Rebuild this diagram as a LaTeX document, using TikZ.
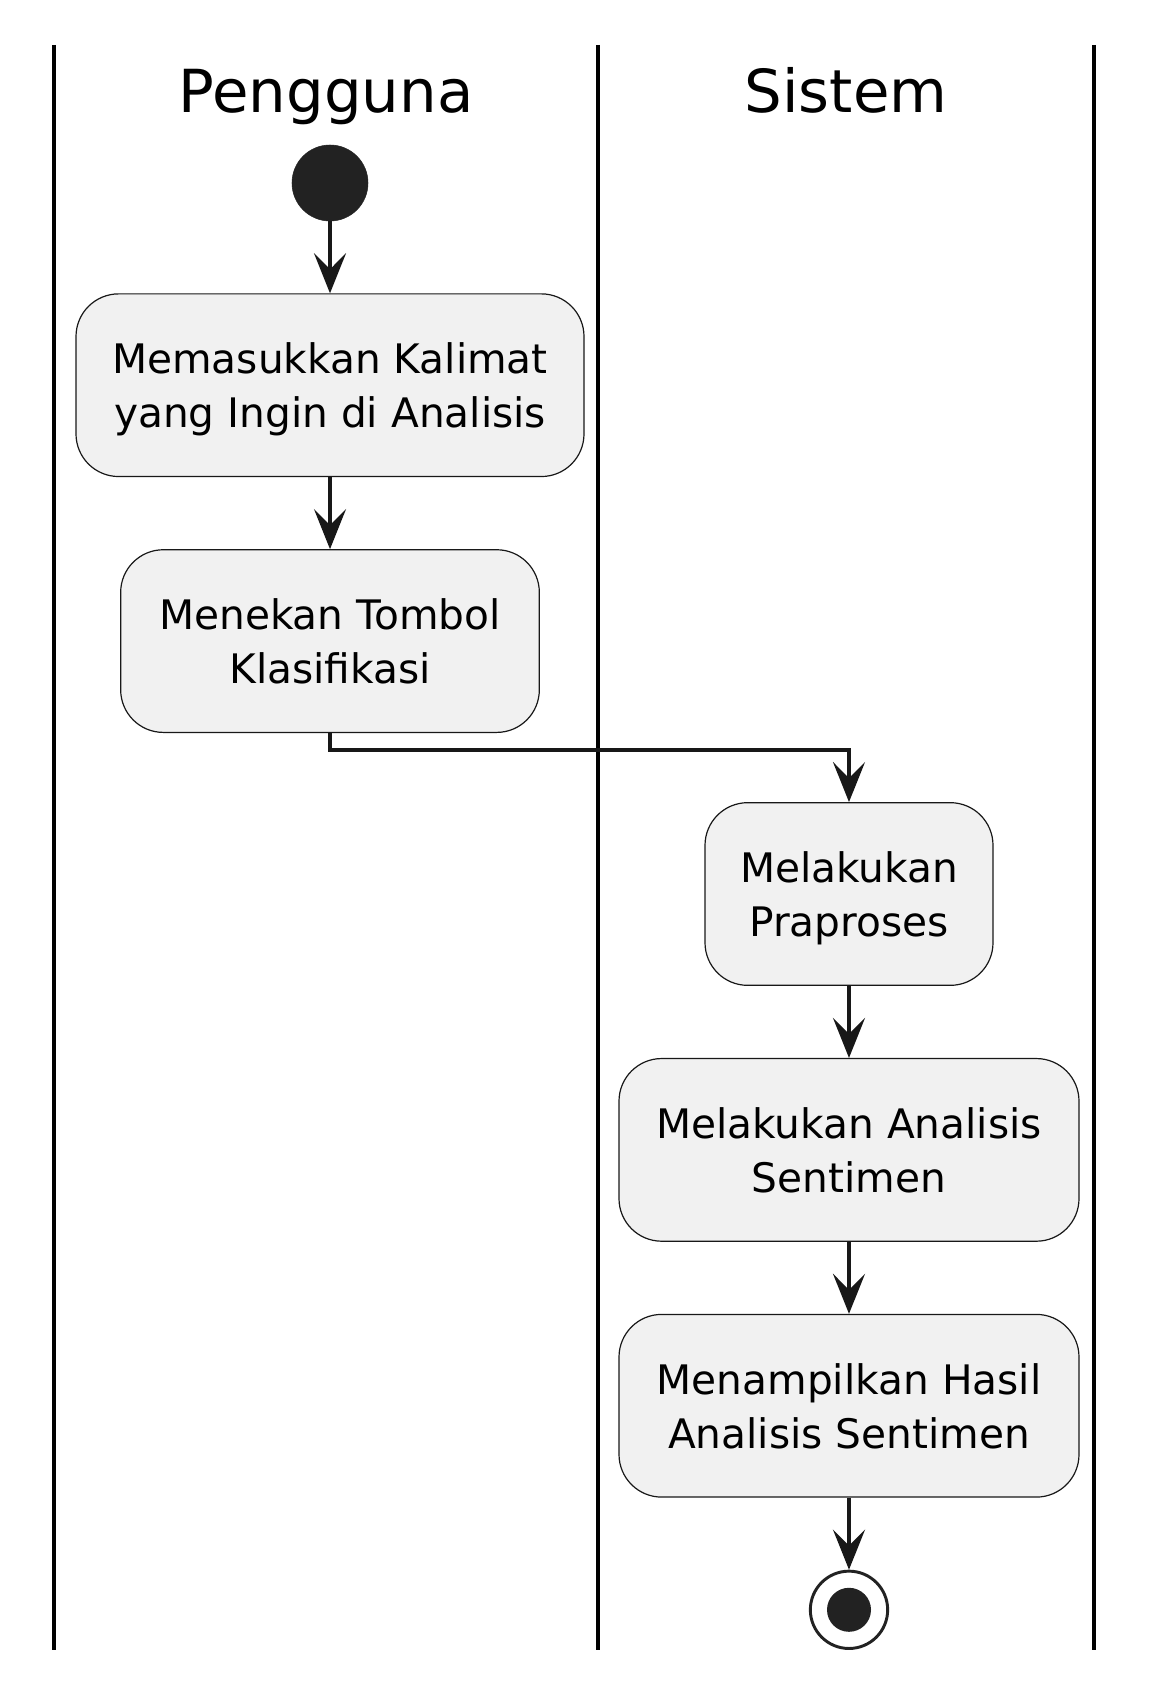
\documentclass[tikz,border=0pt]{standalone}
\usepackage{fontspec}
\setmainfont{DejaVu Sans}
\usetikzlibrary{positioning,arrows.meta}
\definecolor{actfill}{HTML}{F1F1F1}
\definecolor{ink}{HTML}{181818}
\definecolor{dot}{HTML}{222222}

\begin{document}
\begin{tikzpicture}[
  x=0.75pt,y=-0.75pt,
  node distance=54pt,
  act/.style={rectangle,rounded corners=32pt,draw=ink,line width=0.9pt,fill=actfill,
              minimum height=137pt,align=center,inner sep=0pt,text depth=0pt,
              font=\fontsize{30.5}{40.5}\selectfont},
  lane/.style={line width=3.4pt,black},
  title/.style={anchor=base,font=\fontsize{44.5}{50}\selectfont},
  arr/.style={-{Stealth[length=30pt,width=24pt,inset=12pt]},line width=2.6pt,ink},
]
\useasboundingbox (0,0) rectangle (1163,1695);

% ---- swimlanes ----
\draw[lane] (54,45) -- (54,1650);
\draw[lane] (598,45) -- (598,1650);
\draw[lane] (1094,45) -- (1094,1650);
\node[title] (pengguna) at (326,113) {Pengguna};
\node[title] (sistem) at (846,113) {Sistem};

% ---- pengguna ----
\node[circle,fill=dot,draw=dot,minimum size=57pt,inner sep=0pt] (start) at (330,183) {};
\node[act,below=of start,minimum width=381pt] (input) {Memasukkan Kalimat\\yang Ingin di Analisis};
\node[act,below=of input,minimum width=314pt] (klik) {Menekan Tombol\\Klasifikasi};

% ---- sistem ----
\node[act,minimum width=216pt] (prapro) at (849,894) {Melakukan\\Praproses};
\node[act,below=of prapro,minimum width=345pt] (analisis) {Melakukan Analisis\\Sentimen};
\node[act,below=of analisis,minimum width=345pt] (hasil) {Menampilkan Hasil\\Analisis Sentimen};
\node[circle,fill=white,draw=dot,line width=2.2pt,minimum size=58pt,inner sep=0pt,
      below=of hasil] (stop) {};
\node[circle,fill=dot,minimum size=33pt,inner sep=0pt] (stopdot) at (stop) {};

\draw[arr] (start) -- (input);
\draw[arr] (input) -- (klik);
\draw[arr] (klik.south) -- ++(0,17) -| (prapro.north);
\draw[arr] (prapro) -- (analisis);
\draw[arr] (analisis) -- (hasil);
\draw[arr] (hasil) -- (stop);
\end{tikzpicture}
\end{document}
